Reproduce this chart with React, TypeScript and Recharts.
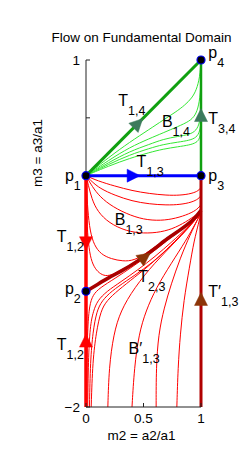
import { ComposedChart, Line, Scatter, XAxis, YAxis, ReferenceDot } from 'recharts'

const FONT = '"Liberation Sans", Arial, Helvetica, sans-serif'

const xTicks = [0, 0.5, 1]
const yTicks = [-2, 0.5, 1]

// fixed points of the flow
const fixedPoints = [
  { x: 0, y: 0 },
  { x: 0, y: -1 },
  { x: 1, y: 0 },
  { x: 1, y: 1 },
]

// visible part of the left axis line (below p1 it is covered by T_{1,2})
const yAxisLine = [{ x: 0, y: 1 }, { x: 0, y: 0 }]

// trajectories on the edges of the domain
const t13 = [{ x: 0, y: 0 }, { x: 1, y: 0 }]
const t14 = [{ x: 0, y: 0 }, { x: 1, y: 1 }]
const t34 = [{ x: 1, y: 0 }, { x: 1, y: 1 }]
const t12 = [{ x: 0, y: 0 }, { x: 0, y: -2 }]
const t13Prime = [{ x: 1, y: -2 }, { x: 1, y: 0 }]
const t23 = [
  { x: 0, y: -1 }, { x: 0.1, y: -0.94 }, { x: 0.2, y: -0.88 }, { x: 0.3, y: -0.83 },
  { x: 0.45, y: -0.74 }, { x: 0.6, y: -0.63 }, { x: 0.71, y: -0.54 }, { x: 0.82, y: -0.47 },
  { x: 0.94, y: -0.38 }, { x: 1, y: -0.3 },
]

// B_{1,4}: fan from p1 to p4
const greenFan = [
  [
    { x: 0, y: 0 }, { x: 0.2, y: 0.16 }, { x: 0.38, y: 0.29 }, { x: 0.55, y: 0.4 },
    { x: 0.67, y: 0.48 }, { x: 0.78, y: 0.55 }, { x: 0.86, y: 0.61 }, { x: 0.92, y: 0.67 },
    { x: 0.96, y: 0.74 }, { x: 0.99, y: 0.85 }, { x: 1, y: 1 },
  ],
  [
    { x: 0, y: 0 }, { x: 0.2, y: 0.135 }, { x: 0.38, y: 0.245 }, { x: 0.55, y: 0.32 },
    { x: 0.67, y: 0.37 }, { x: 0.8, y: 0.425 }, { x: 0.9, y: 0.47 }, { x: 0.95, y: 0.52 },
    { x: 0.98, y: 0.6 }, { x: 1, y: 0.75 }, { x: 1, y: 1 },
  ],
  [
    { x: 0, y: 0 }, { x: 0.2, y: 0.115 }, { x: 0.38, y: 0.21 }, { x: 0.55, y: 0.27 },
    { x: 0.67, y: 0.315 }, { x: 0.8, y: 0.34 }, { x: 0.9, y: 0.355 }, { x: 0.96, y: 0.39 },
    { x: 0.99, y: 0.46 }, { x: 1, y: 0.58 },
  ],
  [
    { x: 0, y: 0 }, { x: 0.2, y: 0.1 }, { x: 0.38, y: 0.18 }, { x: 0.55, y: 0.235 },
    { x: 0.67, y: 0.27 }, { x: 0.8, y: 0.29 }, { x: 0.9, y: 0.305 }, { x: 0.96, y: 0.33 },
    { x: 0.99, y: 0.38 }, { x: 1, y: 0.47 },
  ],
  [
    { x: 0, y: 0 }, { x: 0.2, y: 0.085 }, { x: 0.38, y: 0.15 }, { x: 0.55, y: 0.2 },
    { x: 0.67, y: 0.23 }, { x: 0.8, y: 0.25 }, { x: 0.9, y: 0.265 }, { x: 0.96, y: 0.285 },
    { x: 0.99, y: 0.32 }, { x: 1, y: 0.4 },
  ],
]

// B_{1,3}: from p1 down and round to the right edge
const redUpper = [
  [
    { x: 0, y: 0 }, { x: 0.1, y: -0.045 }, { x: 0.25, y: -0.09 }, { x: 0.4, y: -0.13 },
    { x: 0.55, y: -0.155 }, { x: 0.7, y: -0.17 }, { x: 0.82, y: -0.17 }, { x: 0.92, y: -0.155 },
    { x: 0.98, y: -0.13 }, { x: 1, y: -0.1 },
  ],
  [
    { x: 0, y: 0 }, { x: 0.05, y: -0.05 }, { x: 0.12, y: -0.11 }, { x: 0.25, y: -0.17 },
    { x: 0.4, y: -0.22 }, { x: 0.55, y: -0.245 }, { x: 0.7, y: -0.255 }, { x: 0.82, y: -0.25 },
    { x: 0.92, y: -0.23 }, { x: 0.98, y: -0.2 }, { x: 1, y: -0.17 },
  ],
  [
    { x: 0, y: 0 }, { x: 0.04, y: -0.07 }, { x: 0.1, y: -0.16 }, { x: 0.2, y: -0.25 },
    { x: 0.35, y: -0.33 }, { x: 0.5, y: -0.38 }, { x: 0.65, y: -0.39 }, { x: 0.78, y: -0.37 },
    { x: 0.9, y: -0.33 }, { x: 0.97, y: -0.29 }, { x: 1, y: -0.25 },
  ],
  [
    { x: 0, y: 0 }, { x: 0.02, y: -0.08 }, { x: 0.05, y: -0.2 }, { x: 0.1, y: -0.31 },
    { x: 0.2, y: -0.41 }, { x: 0.35, y: -0.48 }, { x: 0.5, y: -0.5 }, { x: 0.65, y: -0.49 },
    { x: 0.78, y: -0.45 }, { x: 0.9, y: -0.38 }, { x: 0.97, y: -0.33 }, { x: 1, y: -0.3 },
  ],
  [
    { x: 0, y: 0 }, { x: 0.005, y: -0.1 }, { x: 0.015, y: -0.3 }, { x: 0.035, y: -0.48 },
    { x: 0.07, y: -0.6 }, { x: 0.13, y: -0.68 }, { x: 0.22, y: -0.72 }, { x: 0.32, y: -0.74 },
    { x: 0.42, y: -0.735 }, { x: 0.55, y: -0.655 }, { x: 0.7, y: -0.54 }, { x: 0.85, y: -0.44 },
    { x: 0.95, y: -0.36 }, { x: 1, y: -0.3 },
  ],
  [
    { x: 0, y: 0 }, { x: 0.003, y: -0.2 }, { x: 0.01, y: -0.45 }, { x: 0.025, y: -0.63 },
    { x: 0.05, y: -0.75 }, { x: 0.09, y: -0.82 }, { x: 0.14, y: -0.86 }, { x: 0.2, y: -0.87 },
    { x: 0.3, y: -0.82 }, { x: 0.45, y: -0.735 }, { x: 0.6, y: -0.625 }, { x: 0.71, y: -0.535 },
    { x: 0.82, y: -0.465 }, { x: 0.94, y: -0.375 }, { x: 1, y: -0.3 },
  ],
]

// curves coming up from the bottom edge
const redLower = [
  [
    { x: 0.005, y: -2 }, { x: 0.008, y: -1.6 }, { x: 0.015, y: -1.3 }, { x: 0.03, y: -1.12 },
    { x: 0.06, y: -1.03 }, { x: 0.12, y: -0.97 }, { x: 0.25, y: -0.89 }, { x: 0.4, y: -0.79 },
    { x: 0.55, y: -0.685 }, { x: 0.7, y: -0.565 }, { x: 0.85, y: -0.45 }, { x: 0.95, y: -0.37 },
    { x: 1, y: -0.32 },
  ],
  [
    { x: 0.015, y: -2 }, { x: 0.02, y: -1.6 }, { x: 0.035, y: -1.3 }, { x: 0.064, y: -1.17 },
    { x: 0.1, y: -1.08 }, { x: 0.18, y: -1.0 }, { x: 0.3, y: -0.92 }, { x: 0.45, y: -0.815 },
    { x: 0.6, y: -0.7 }, { x: 0.75, y: -0.57 }, { x: 0.88, y: -0.45 }, { x: 0.96, y: -0.37 },
    { x: 1, y: -0.32 },
  ],
  [
    { x: 0.03, y: -2 }, { x: 0.038, y: -1.6 }, { x: 0.06, y: -1.35 }, { x: 0.093, y: -1.17 },
    { x: 0.14, y: -1.08 }, { x: 0.22, y: -1.0 }, { x: 0.35, y: -0.91 }, { x: 0.5, y: -0.81 },
    { x: 0.65, y: -0.69 }, { x: 0.8, y: -0.55 }, { x: 0.92, y: -0.42 }, { x: 1, y: -0.32 },
  ],
  [
    { x: 0.045, y: -2 }, { x: 0.058, y: -1.6 }, { x: 0.09, y: -1.35 }, { x: 0.128, y: -1.17 },
    { x: 0.18, y: -1.08 }, { x: 0.28, y: -0.99 }, { x: 0.42, y: -0.88 }, { x: 0.56, y: -0.77 },
    { x: 0.7, y: -0.64 }, { x: 0.84, y: -0.5 }, { x: 0.94, y: -0.39 }, { x: 1, y: -0.32 },
  ],
  [
    { x: 0.19, y: -2 }, { x: 0.2, y: -1.66 }, { x: 0.24, y: -1.37 }, { x: 0.3, y: -1.17 },
    { x: 0.42, y: -0.97 }, { x: 0.59, y: -0.76 }, { x: 0.79, y: -0.56 }, { x: 0.94, y: -0.39 },
    { x: 1, y: -0.32 },
  ],
  [
    { x: 0.4, y: -2 }, { x: 0.42, y: -1.66 }, { x: 0.46, y: -1.37 }, { x: 0.52, y: -1.17 },
    { x: 0.61, y: -0.97 }, { x: 0.74, y: -0.76 }, { x: 0.87, y: -0.56 }, { x: 0.96, y: -0.4 },
    { x: 1, y: -0.32 },
  ],
  [
    { x: 0.61, y: -2 }, { x: 0.61, y: -1.66 }, { x: 0.63, y: -1.37 }, { x: 0.68, y: -1.14 },
    { x: 0.74, y: -0.94 }, { x: 0.82, y: -0.71 }, { x: 0.91, y: -0.5 }, { x: 0.97, y: -0.38 },
    { x: 1, y: -0.32 },
  ],
  [
    { x: 0.79, y: -2 }, { x: 0.8, y: -1.66 }, { x: 0.82, y: -1.37 }, { x: 0.85, y: -1.08 },
    { x: 0.9, y: -0.79 }, { x: 0.94, y: -0.56 }, { x: 0.98, y: -0.41 }, { x: 1, y: -0.32 },
  ],
]

// direction arrows (angle in degrees, counter-clockwise from +x on screen)
const greenArrows = [
  { x: 0.45, y: 0.45, angle: 45 },
  { x: 1, y: 0.52, angle: 90 },
]
const blueArrows = [{ x: 0.41, y: 0, angle: 0 }]
const redArrows = [
  { x: 0, y: -0.58, angle: -90 },
  { x: 0, y: -1.43, angle: 90 },
]
const brownArrows = [
  { x: 0.51, y: -0.705, angle: 36 },
  { x: 1, y: -1.07, angle: 90 },
]

// annotation text, anchored at the baseline of the main letter
const annotations = [
  { x: 0.28, y: 0.605, main: 'T', prime: false, sub: '1,4' },
  { x: 0.66, y: 0.42, main: 'B', prime: false, sub: '1,4' },
  { x: 1.063, y: 0.45, main: 'T', prime: false, sub: '3,4' },
  { x: 0.44, y: 0.072, main: 'T', prime: false, sub: '1,3' },
  { x: 0.25, y: -0.43, main: 'B', prime: false, sub: '1,3' },
  { x: -0.255, y: -0.576, main: 'T', prime: false, sub: '1,2' },
  { x: 0.455, y: -0.92, main: 'T', prime: false, sub: '2,3' },
  { x: 1.063, y: -1.05, main: 'T', prime: true, sub: '1,3' },
  { x: -0.255, y: -1.51, main: 'T', prime: false, sub: '1,2' },
  { x: 0.37, y: -1.54, main: 'B', prime: true, sub: '1,3' },
  { x: -0.183, y: -0.043, main: 'p', prime: false, sub: '1' },
  { x: 1.063, y: -0.043, main: 'p', prime: false, sub: '3' },
  { x: 1.063, y: 1.02, main: 'p', prime: false, sub: '4' },
  { x: -0.183, y: -1.02, main: 'p', prime: false, sub: '2' },
]

const makeArrow = (color: string) => (props: any) => {
  const { cx, cy, payload } = props
  if (cx == null || cy == null) return null
  return (
    <polygon
      points="7,0 -6,-6.5 -6,6.5"
      fill={color}
      stroke={color}
      strokeWidth={0.5}
      transform={`translate(${cx},${cy}) rotate(${-payload.angle})`}
    />
  )
}

const PointShape = (props: any) => {
  const { cx, cy } = props
  if (cx == null || cy == null) return null
  return <circle cx={cx} cy={cy} r={4} fill="#000" stroke="#0000ee" strokeWidth={1.2} />
}

const makeLabel = (a: (typeof annotations)[number]) => (props: any) => {
  const { cx, cy } = props
  return (
    <text x={cx} y={cy} fontFamily={FONT} fontSize={16} fill="#000">
      {a.main}
      {a.prime ? '\u2032' : ''}
      <tspan fontSize={12.5} dy={9}>
        {a.sub}
      </tspan>
    </text>
  )
}

const yTickFormat = (v: number) => (v === 1 ? '1' : v === -2 ? '\u22122' : '')

export default function App() {
  const thin = (data: any[], color: string, key: string) => (
    <Line
      key={key}
      data={data}
      dataKey="y"
      type="basis"
      stroke={color}
      strokeWidth={1}
      dot={false}
      activeDot={false}
      isAnimationActive={false}
    />
  )

  return (
    <div style={{ position: 'absolute', left: 0, top: 0, width: 250, height: 450, background: '#fff' }}>
      <ComposedChart
        width={250}
        height={450}
        margin={{ top: 60, right: 49, bottom: 13, left: 46 }}
      >
        <XAxis
          type="number"
          dataKey="x"
          domain={[0, 1]}
          ticks={xTicks}
          tickFormatter={(v: number) => String(v)}
          height={30}
          tickSize={-4}
          tickMargin={10}
          stroke="#222"
          tick={{ fill: '#000', fontSize: 13.5, fontFamily: FONT }}
        />
        <YAxis
          type="number"
          dataKey="y"
          domain={[-2, 1]}
          ticks={yTicks}
          tickFormatter={yTickFormat}
          width={40}
          axisLine={false}
          tickSize={-4}
          tickMargin={10}
          stroke="#222"
          tick={{ fill: '#000', fontSize: 13.5, fontFamily: FONT }}
        />

        <Line data={yAxisLine} dataKey="y" type="linear" stroke="#222" strokeWidth={1} dot={false} activeDot={false} isAnimationActive={false} />

        {redUpper.map((c, i) => thin(c, '#ff0000', `ru${i}`))}
        {redLower.map((c, i) => thin(c, '#ff0000', `rl${i}`))}
        {greenFan.map((c, i) => thin(c, '#33e833', `g${i}`))}

        <Line data={t23} dataKey="y" type="basis" stroke="#a80000" strokeWidth={3.5} dot={false} activeDot={false} isAnimationActive={false} />
        <Line data={t13Prime} dataKey="y" type="linear" stroke="#b00000" strokeWidth={3} dot={false} activeDot={false} isAnimationActive={false} />
        <Line data={t14} dataKey="y" type="linear" stroke="#10a010" strokeWidth={3} dot={false} activeDot={false} isAnimationActive={false} />
        <Line data={t34} dataKey="y" type="linear" stroke="#10a010" strokeWidth={2.5} dot={false} activeDot={false} isAnimationActive={false} />
        <Line data={t13} dataKey="y" type="linear" stroke="#0000ff" strokeWidth={3} dot={false} activeDot={false} isAnimationActive={false} />
        <Line data={t12} dataKey="y" type="linear" stroke="#ff0000" strokeWidth={3.5} dot={false} activeDot={false} isAnimationActive={false} />

        <Scatter data={greenArrows} shape={makeArrow('#3c7a5c')} isAnimationActive={false} />
        <Scatter data={blueArrows} shape={makeArrow('#0000ff')} isAnimationActive={false} />
        <Scatter data={redArrows} shape={makeArrow('#ff0000')} isAnimationActive={false} />
        <Scatter data={brownArrows} shape={makeArrow('#8c3408')} isAnimationActive={false} />
        <Scatter data={fixedPoints} shape={PointShape} isAnimationActive={false} />

        {annotations.map((a, i) => (
          <ReferenceDot key={`a${i}`} x={a.x} y={a.y} r={0} ifOverflow="visible" shape={makeLabel(a)} />
        ))}
      </ComposedChart>
      <svg
        width={250}
        height={450}
        style={{ position: 'absolute', left: 0, top: 0, pointerEvents: 'none' }}
      >
        <text x={141.5} y={42} textAnchor="middle" fontFamily={FONT} fontSize={13.5} fill="#000">
          Flow on Fundamental Domain
        </text>
        <text x={141.5} y={440} textAnchor="middle" fontFamily={FONT} fontSize={13.5} fill="#000">
          m2 = a2/a1
        </text>
        <text
          x={42}
          y={153}
          textAnchor="middle"
          fontFamily={FONT}
          fontSize={13.5}
          fill="#000"
          transform="rotate(-90 42 153)"
        >
          m3 = a3/a1
        </text>
      </svg>
    </div>
  )
}
